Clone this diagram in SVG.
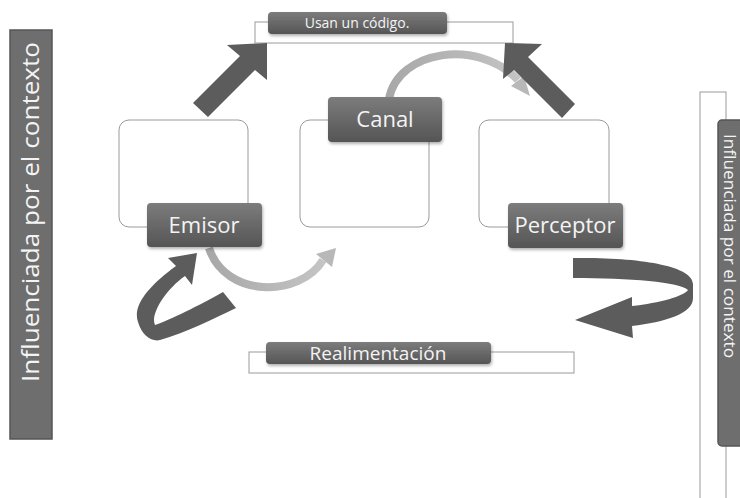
<svg xmlns="http://www.w3.org/2000/svg" width="740" height="498" viewBox="0 0 740 498">
<defs>
<linearGradient id="lab" x1="0" y1="0" x2="0" y2="1">
<stop offset="0" stop-color="#7c7c7c"/>
<stop offset="1" stop-color="#555555"/>
</linearGradient>
<linearGradient id="light" x1="0" y1="0" x2="1" y2="0">
<stop offset="0" stop-color="#a8a8a8"/>
<stop offset="1" stop-color="#c4c4c4"/>
</linearGradient>
<filter id="sh" x="-10%" y="-10%" width="130%" height="140%">
<feDropShadow dx="1" dy="2" stdDeviation="1.5" flood-color="#000" flood-opacity="0.3"/>
</filter>
<style>
.box{fill:#ffffff;stroke:#9a9a9a;stroke-width:1}
.lab{fill:url(#lab);filter:url(#sh)}
.txt{fill:#f4f4f4;font-family:"Open Sans","Noto Sans",sans-serif;text-anchor:middle}
.bar{fill:#6e6e6e;stroke:#555;stroke-width:1.5}
.dark{fill:#5c5c5c}
.lt{fill:none;stroke:url(#light);stroke-width:8}
.lth{fill:#b8b8b8}
</style>
</defs>
<rect width="740" height="498" fill="#ffffff"/>

<g id="contexto-izq">
<rect class="bar" x="10" y="30" width="42" height="409"/>
<text class="txt" transform="translate(39,212) rotate(-90)" font-size="24" fill="#e6e6e6" textLength="340" lengthAdjust="spacingAndGlyphs">Influenciada por el contexto</text>
</g>

<g id="contexto-der">
<rect class="box" x="700" y="92" width="26" height="420"/>
<rect class="bar" x="718" y="120" width="30" height="326" rx="4"/>
<text class="txt" transform="translate(724,246) rotate(90)" font-size="16" fill="#e6e6e6" textLength="224" lengthAdjust="spacingAndGlyphs">Influenciada por el contexto</text>
</g>

<g id="codigo">
<rect class="box" x="255" y="22" width="258" height="21"/>
<rect class="lab" x="268" y="12" width="179" height="22" rx="4"/>
<text class="txt" x="357" y="28" font-size="14">Usan un código.</text>
</g>

<g id="realimentacion">
<rect class="box" x="249" y="352" width="325" height="21"/>
<rect class="lab" x="266" y="342" width="225" height="22" rx="4"/>
<text class="txt" x="378" y="360" font-size="19">Realimentación</text>
</g>

<g id="emisor">
<rect class="box" x="119" y="120" width="129" height="107" rx="10"/>
</g>
<g id="canal">
<rect class="box" x="300" y="120" width="129" height="107" rx="10"/>
</g>
<g id="perceptor">
<rect class="box" x="479" y="120" width="130" height="107" rx="10"/>
</g>

<g id="connectors">
<path class="lt" d="M389,99 C398,50 478,38 518,80"/>
<polygon class="lth" points="530,96 511,86 524,76"/>
<path class="lt" d="M209,248 C225,298 300,298 323,260"/>
<polygon class="lth" points="336,248 316,254 332,267"/>
<polygon class="dark" points="193,103 240,56 227,45 267,43 267,80 255,70 208,117"/>
<polygon class="dark" points="575,104 528,57 542,44 505,43 503,79 514,70 562,118"/>
<path class="dark" d="M197,253 L168,258 L176,266 C150,285 132,305 138,322 C142,336 152,342 160,340 C185,333 215,318 236,308 L223,292 C200,305 170,320 155,325 C150,315 165,290 185,276 L192,285 Z"/>
<path class="dark" d="M573,258 C640,257 693,266 693,284 L693,298 C693,314 665,322 632,326 L633,338 L575,320 L632,297 L632,306 C660,303 684,296 688,290 C680,282 630,278 573,278 Z"/>
</g>

<g id="emisor-label">
<rect class="lab" x="147" y="203" width="115" height="44" rx="4"/>
<text class="txt" x="204" y="233" font-size="22">Emisor</text>
</g>
<g id="canal-label">
<rect class="lab" x="328" y="97" width="114" height="45" rx="4"/>
<text class="txt" x="385" y="127" font-size="22">Canal</text>
</g>
<g id="perceptor-label">
<rect class="lab" x="508" y="203" width="115" height="45" rx="4"/>
<text class="txt" x="565" y="233" font-size="22">Perceptor</text>
</g>
</svg>
